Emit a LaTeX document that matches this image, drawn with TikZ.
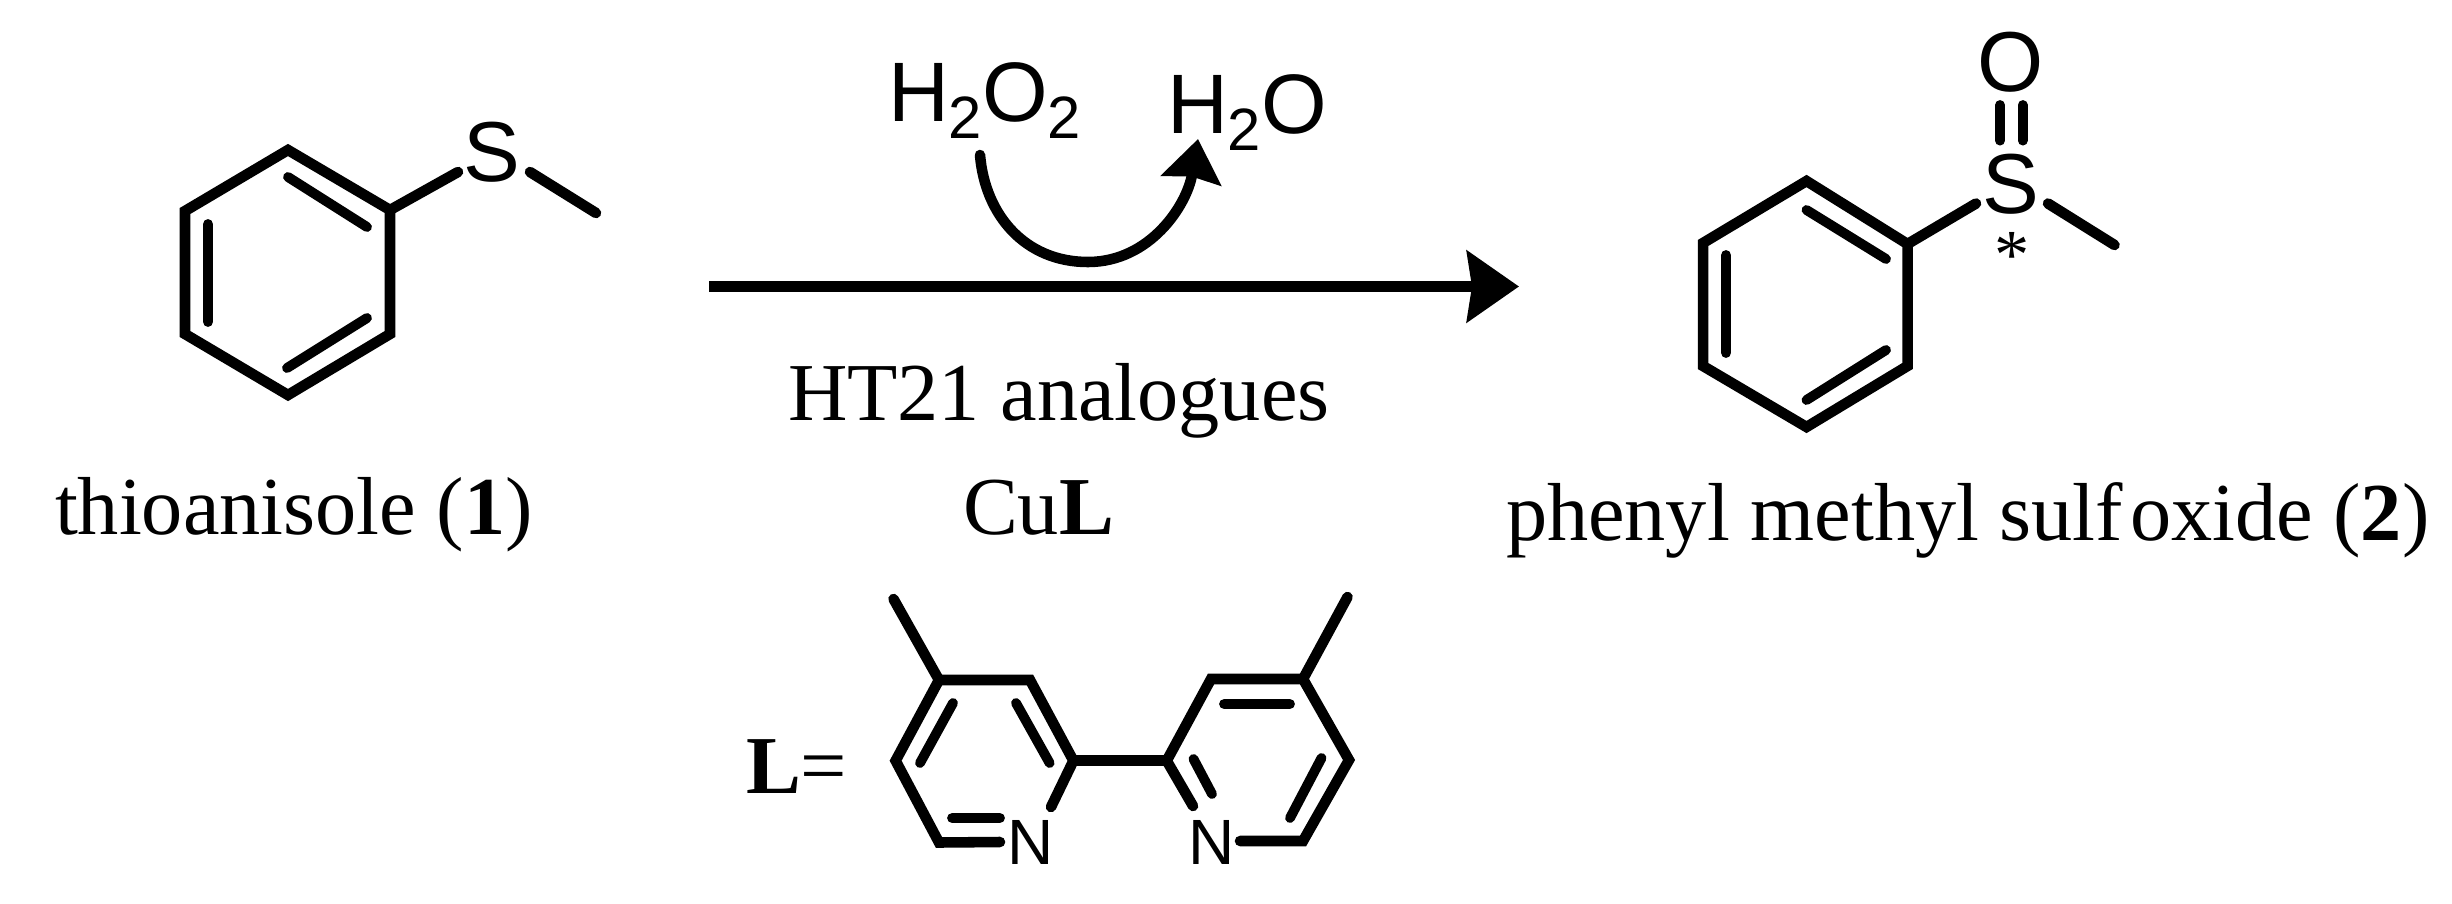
\documentclass[tikz,border=0pt]{standalone}
\usepackage{fontspec}
\setmainfont{Liberation Serif}
\newfontfamily\chemfont{Liberation Sans}
\usetikzlibrary{arrows.meta}
\newcommand{\sizeof}[1]{\fontsize{#1}{#1}\selectfont}
\newcommand{\subdigit}[1]{\raisebox{-0.17cm}{\sizeof{17}#1}}
\tikzset{
  bondline/.style={line width=3pt,line cap=round,line join=miter,black},
  innerbond/.style={line width=2.8pt,line cap=round,black},
  lab/.style={inner sep=0pt,outer sep=0pt,anchor=base west,font=\sizeof{23.4}},
  atom/.style={inner sep=0pt,outer sep=0pt,anchor=center,font=\chemfont\sizeof{24.2}},
  ligatom/.style={inner sep=0pt,outer sep=0pt,anchor=center,font=\chemfont\sizeof{18.2}},
  formula/.style={inner sep=0pt,outer sep=0pt,anchor=base west,font=\chemfont\sizeof{24}},
  mainarrow/.style={line width=3pt,-{Stealth[length=0.52cm,width=0.71cm,inset=0.05cm]}},
  cyclearrow/.style={line width=3pt,line cap=round,-{Stealth[length=0.42cm,width=0.6cm,inset=0.04cm]}},
}
\begin{document}
\begin{tikzpicture}[x=0.01cm,y=-0.01cm]
\useasboundingbox (0,0) rectangle (2452,903);
% --- thioanisole
\coordinate (a1) at (288,150);
\coordinate (a2) at (390,210);
\coordinate (a3) at (390,334);
\coordinate (a4) at (288,395);
\coordinate (a5) at (185,334);
\coordinate (a6) at (185,211);
\draw[bondline] (a1)--(a2)--(a3)--(a4)--(a5)--(a6)--cycle;
\coordinate (a1i) at (288,177); \coordinate (a2i) at (367,227);
\coordinate (a3i) at (367,318); \coordinate (a4i) at (287,368);
\coordinate (a5i) at (208,322); \coordinate (a6i) at (208,224);
\draw[innerbond] (a1i)--(a2i) (a3i)--(a4i) (a5i)--(a6i);
\node[atom] (s1) at (492,152) {S};
\coordinate (s1l) at (458,172); \coordinate (s1r) at (530,172); \coordinate (me1) at (596,213);
\draw[bondline] (a2)--(s1l) (s1r)--(me1);
\node[lab] (name1) at (55,534) {thioanisole (\textbf{1})};
% --- reagents and arrows
\node[formula] (h2o2) at (888,121) {H\subdigit{2}O\subdigit{2}};
\node[formula] (h2o) at (1167,133) {H\subdigit{2}O};
\coordinate (cs) at (980,155);
\coordinate (cm) at (1088,262);
\coordinate (ce) at (1198,139);
\draw[cyclearrow] (cs) .. controls (985,215) and (1025,262) .. (cm) .. controls (1150,262) and (1187,205) .. (ce);
\coordinate (arrs) at (709,286.5);
\coordinate (arre) at (1519,286.5);
\draw[mainarrow] (arrs)--(arre);
\node[lab] (ht) at (788,420) {HT21 analogues};
\node[lab] (cul) at (963,534) {Cu\textbf{L}};
% --- sulfoxide
\coordinate (b1) at (1806.5,181);
\coordinate (b2) at (1907.5,244);
\coordinate (b3) at (1907.5,366);
\coordinate (b4) at (1806.5,427);
\coordinate (b5) at (1703,366);
\coordinate (b6) at (1703,243);
\draw[bondline] (b1)--(b2)--(b3)--(b4)--(b5)--(b6)--cycle;
\coordinate (b1i) at (1806.5,210); \coordinate (b2i) at (1886,259);
\coordinate (b3i) at (1886,350); \coordinate (b4i) at (1806.5,400);
\coordinate (b5i) at (1726,353); \coordinate (b6i) at (1726,255);
\draw[innerbond] (b1i)--(b2i) (b3i)--(b4i) (b5i)--(b6i);
\node[atom] (s2) at (2011,184) {S};
\node[atom] (o2) at (2011,62) {O};
\node[inner sep=0pt,font=\sizeof{20}] (star) at (2012.5,255) {*};
\coordinate (s2l) at (1976,203.5); \coordinate (s2r) at (2048,203.5); \coordinate (me2) at (2114.5,245);
\draw[bondline] (b2)--(s2l) (s2r)--(me2);
\coordinate (d1a) at (2000,105); \coordinate (d1b) at (2000,140.6);
\coordinate (d2a) at (2022.6,105); \coordinate (d2b) at (2022.6,140.6);
\draw[innerbond] (d1a)--(d1b) (d2a)--(d2b);
\node[lab] (name2) at (1506,540) {phenyl methyl sulf\kern0.07cm oxide (\textbf{2})};
% --- ligand
\node[lab] (ell) at (746,793) {\textbf{L}=};
\coordinate (l1) at (939,680);
\coordinate (l2) at (1030,680);
\coordinate (l3) at (1073.4,760.7);
\coordinate (l4) at (939,842.5);
\coordinate (l5) at (895.6,760.7);
\coordinate (lm) at (893.5,599);
\node[ligatom] (n1) at (1031,842) {N};
\coordinate (n1t) at (1051,807);
\coordinate (n1l) at (1000,842);
\draw[bondline] (n1t)--(l3)--(l2)--(l1)--(l5)--(l4)--(n1l);
\draw[bondline] (l1)--(lm);
\coordinate (l1a) at (953,703); \coordinate (l1b) at (920,763);
\coordinate (l2a) at (1016,703); \coordinate (l2b) at (1049.6,763);
\coordinate (l3a) at (952,818); \coordinate (l3b) at (1000,818);
\draw[innerbond] (l1a)--(l1b) (l2a)--(l2b) (l3a)--(l3b);
\coordinate (r1) at (1166.7,760.7);
\coordinate (r2) at (1211,679);
\coordinate (r3) at (1303,679);
\coordinate (r4) at (1349,760);
\coordinate (r5) at (1303,841);
\coordinate (rm) at (1347.5,597);
\node[ligatom] (n2) at (1212,842) {N};
\coordinate (n2t) at (1193,806);
\coordinate (n2r) at (1240,841);
\draw[bondline] (n2t)--(r1)--(r2)--(r3)--(r4)--(r5)--(n2r);
\draw[bondline] (r3)--(rm);
\draw[bondline] (l3)--(r1);
\coordinate (r1a) at (1224,704); \coordinate (r1b) at (1290,704);
\coordinate (r2a) at (1193.5,759); \coordinate (r2b) at (1212,794);
\coordinate (r3a) at (1321.5,758); \coordinate (r3b) at (1290,818);
\draw[innerbond] (r1a)--(r1b) (r2a)--(r2b) (r3a)--(r3b);
\end{tikzpicture}
\end{document}
